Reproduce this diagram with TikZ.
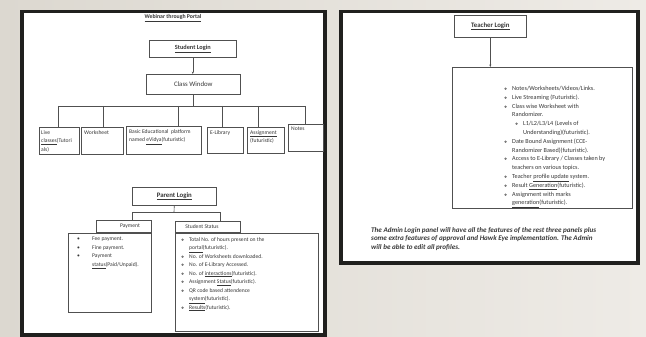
\documentclass[tikz,border=0pt]{standalone}
\usepackage{fontspec}
\setmainfont{Carlito}
\newfontfamily\symf{DejaVu Sans}
\usetikzlibrary{arrows.meta}
\definecolor{bga}{RGB}{220,216,208}
\definecolor{bgb}{RGB}{238,235,230}
\definecolor{framec}{RGB}{32,32,30}
\definecolor{linec}{RGB}{80,80,80}
\definecolor{textc}{RGB}{55,55,55}
\newcommand\fsS{\fontsize{5.6}{8.5}\selectfont}
\newcommand\fsT{\fontsize{6.2}{8.8}\selectfont}
\newcommand\pbul{\makebox[15pt][l]{\textbullet}}
\newcommand\dbul{\makebox[8pt][l]{{\symf\fontsize{3.5}{3.5}\selectfont ❖}}}
\newcommand\ind[1]{\hspace*{#1pt}}
\tikzset{
  frame/.style={draw=framec, line width=3.5pt, fill=white, inner sep=0pt, anchor=north west},
  box/.style={draw=linec, line width=0.6pt, fill=white, inner sep=0pt, anchor=north west},
  tx/.style={font=\fsS, text=textc, inner sep=0pt, align=left, anchor=north west},
  ln/.style={draw=linec, line width=0.6pt},
  arr/.style={draw=linec, line width=0.6pt, -{Stealth[length=2.5pt,width=2pt]}},
  head/.style={font=\fontsize{6}{7}\selectfont, text=textc, inner sep=0pt},
}
\newcommand\bx[5]{\node[box, minimum width=#3pt, minimum height=#4pt] (#5) at (#1,#2) {};}
\begin{document}
\begin{tikzpicture}[x=1pt,y=-1pt]
\useasboundingbox (0,0) rectangle (646,337);
\shade[left color=bga, right color=bgb] (0,0) rectangle (646,337);
% frames
\fill[black!30] (22,12) rectangle (326,337);
\fill[black!30] (341,12) rectangle (639,264);
\node[frame, minimum width=303pt, minimum height=323pt] (lp) at (20,10) {};
\node[frame, minimum width=297pt, minimum height=251pt] (rp) at (339,10) {};
% left panel
\node[head, font=\bfseries\fontsize{5.8}{6}\selectfont] (title) at (173,18) {\underline{Webinar through Portal}};
\bx{149}{40}{87}{17}{sl}
\bx{146}{74}{94}{20}{cw}
\bx{39}{127}{40}{27}{live}
\bx{81}{127}{42}{27}{ws}
\bx{126}{126}{75}{28}{basic}
\bx{207}{127}{36}{26}{elib}
\bx{247}{127}{37}{26}{asg}
\bx{288}{124}{35}{27}{notes}
\bx{132}{187}{84}{18}{pl}
\bx{96}{220}{55}{12}{pay}
\bx{175}{221}{65}{11}{ss}
\bx{68}{233}{83}{79}{payl}
\bx{175}{233}{143}{98}{ssl}
\node[head, font=\bfseries\fontsize{6.3}{7}\selectfont] at (sl) {\underline{Student Login}};
\node[head, font=\fontsize{6.8}{7}\selectfont] at (cw) {Class Window};
\node[head, font=\bfseries\fontsize{6.8}{7}\selectfont] at (pl) {\underline{Parent Login}};
\node[tx] at ([shift={(2,3)}]live.north west) {Live\\\underline{classes}(Tutori\\als)};
\node[tx] at ([shift={(3,3)}]ws.north west) {Worksheet};
\node[tx] at ([shift={(3,3)}]basic.north west) {Basic Educational\ \ platform\\named \underline{eVidya}(futuristic)};
\node[tx] at ([shift={(3,3)}]elib.north west) {E-Library};
\node[tx] at ([shift={(3,3)}]asg.north west) {\underline{Assignment}\\(futuristic)};
\node[tx] at ([shift={(3,3)}]notes.north west) {Notes};
\node[tx, anchor=center] at (130,226) {Payment};
\node[tx, anchor=center] at (202,226.5) {Student Status};
% connectors
\draw[arr] (sl.south) -- (sl.south |- cw.north);
\coordinate (bus) at (193,106);
\draw[ln] (cw.south -| bus) -- (bus);
\coordinate (bl) at (58,106);
\coordinate (br) at (305,106);
\draw[ln] (bl) -- (br);
\foreach \x/\n in {58/live,103/ws,178/basic,222/elib,258/asg,305/notes}{
  \coordinate (d\n) at (\x,106);
  \draw[ln] (d\n) -- (d\n |- \n.north);
}
\coordinate (pj) at (174,212);
\coordinate (pa) at (132,212);
\coordinate (pb) at (220,212);
\draw[ln] (pl.south) -- (pj);
\draw[ln] (pa |- pay.north) -- (pa) -- (pb) -- (pb |- ss.north);
% lists
\node[tx] at (77,237) {\pbul Fee payment.\\\pbul Fine payment.\\\pbul Payment\\\ind{15}\underline{status}(Paid/Unpaid).};
\node[tx] at (181,237) {\dbul Total No. of hours present on the\\\ind{8}\underline{portal}(futuristic).\\
\dbul No. of Worksheets downloaded.\\
\dbul No. of E-Library Accessed.\\
\dbul No. of \underline{interactions}(futuristic).\\
\dbul Assignment \underline{Status}(futuristic).\\
\dbul QR code based attendence\\\ind{8}\underline{system}(futuristic).\\
\dbul \underline{Results}(futuristic).};
% right panel
\bx{454}{15}{72}{22}{tl}
\bx{452}{67}{180}{141}{tb}
\node[head, font=\bfseries\fontsize{6.8}{7}\selectfont] at (tl) {\underline{Teacher Login}};
\draw[arr] (tl.south) -- (tl.south |- tb.north);
\node[tx, font=\fsT] at (504,86) {\dbul Notes/Worksheets/Videos/Links.\\
\dbul Live Streaming (Futuristic).\\
\dbul Class wise Worksheet with\\\ind{8}Randomizer.\\
\ind{11}\dbul L1/L2/L3/L4 (Levels of\\\ind{19}Understanding)(futuristic).\\
\dbul Date Bound Assignment (CCE-\\\ind{8}Randomizer Based)(futuristic).\\
\dbul Access to E-Library / Classes taken by\\\ind{8}teachers on various topics.\\
\dbul Teacher \underline{profile update} system.\\
\dbul Result \underline{Generation}(futuristic).\\
\dbul Assignment with marks\\\ind{8}\underline{generation}(futuristic).};
\node[tx, font=\bfseries\itshape\fontsize{7.1}{8.5}\selectfont] (admin) at (371,227) {The Admin Login panel will have all the features of the rest three panels plus\\some extra features of approval and Hawk Eye implementation. The Admin\\will be able to edit all profiles.};
\end{tikzpicture}
\end{document}
